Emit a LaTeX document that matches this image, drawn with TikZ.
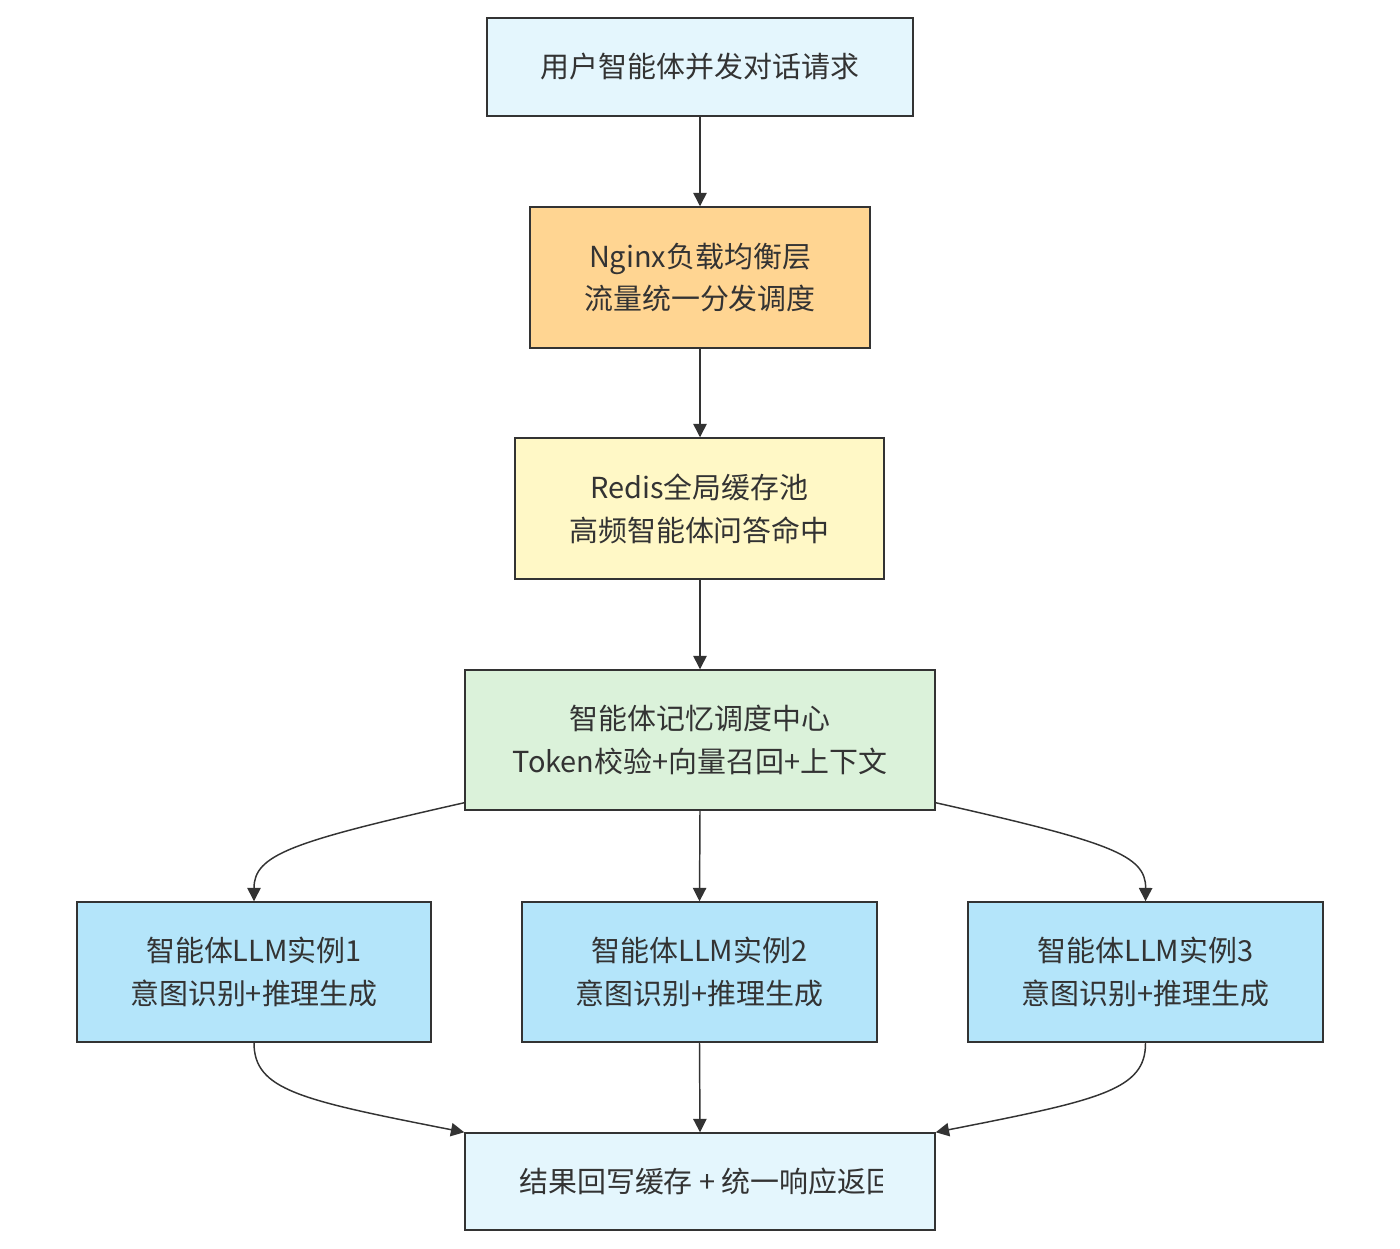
\documentclass[tikz,border=0pt]{standalone}
\usepackage{fontspec}
\setmainfont{Noto Sans CJK SC}
\usetikzlibrary{arrows.meta}
\definecolor{ink}{HTML}{333333}
\definecolor{cUser}{HTML}{E4F6FD}
\definecolor{cNginx}{HTML}{FFD592}
\definecolor{cRedis}{HTML}{FFF8C6}
\definecolor{cMem}{HTML}{DBF2DA}
\definecolor{cLLM}{HTML}{B4E5FA}
\definecolor{cOut}{HTML}{E4F6FD}
\begin{document}
\begin{tikzpicture}[x=0.75pt,y=-0.75pt,
  box/.style={draw=ink, line width=1.1pt, rectangle, inner sep=0pt, align=center, text=ink,
    font=\fontsize{21.7}{32.2}\selectfont},
  conn/.style={draw=ink, line width=1.1pt, -{Triangle[length=10pt,width=10pt]}},
  lbl/.style={text=ink, inner sep=0pt, font=\fontsize{21.7}{32.2}\selectfont}]
\useasboundingbox (0,0) rectangle (1400,1249);
\node[box, fill=cUser, minimum width={426*0.75pt}, minimum height={98*0.75pt}] (user) at (700,67) {用户智能体并发对话请求};
\node[box, fill=cNginx, minimum width={340*0.75pt}, minimum height={141*0.75pt}] (nginx) at (700,277.5) {Nginx负载均衡层\\流量统一分发调度};
\node[box, fill=cRedis, minimum width={369*0.75pt}, minimum height={141*0.75pt}] (redis) at (699.5,508.5) {Redis全局缓存池\\高频智能体问答命中};
\node[box, fill=cMem, minimum width={470*0.75pt}, minimum height={140*0.75pt}] (mem) at (700,740) {智能体记忆调度中心\\Token校验+向量召回+上下文};
\node[box, fill=cLLM, minimum width={354*0.75pt}, minimum height={140*0.75pt}] (llm1) at (254,972) {智能体LLM实例1\\意图识别+推理生成};
\node[box, fill=cLLM, minimum width={355*0.75pt}, minimum height={140*0.75pt}] (llm2) at (699.5,972) {智能体LLM实例2\\意图识别+推理生成};
\node[box, fill=cLLM, minimum width={355*0.75pt}, minimum height={140*0.75pt}] (llm3) at (1145.5,972) {智能体LLM实例3\\意图识别+推理生成};
\node[box, fill=cOut, minimum width={470*0.75pt}, minimum height={97*0.75pt}] (out) at (700,1181.5) {};
\begin{scope}
  \clip (470,1140) rectangle (882,1225);
  \node[lbl, anchor=west] (outtext) at (519,1181.5) {结果回写缓存 + 统一响应返回};
\end{scope}
\draw[conn] (user.south) -- (nginx.north);
\draw[conn] (nginx.south) -- (redis.north -| nginx.south);
\draw[conn] (redis.south -| nginx.south) -- (mem.north);
\draw[conn] (mem.south) -- (llm2.north);
\draw[conn] ([yshift={8*0.75pt}]mem.south west) .. controls (290,842) and (254,855) .. (llm1.north);
\draw[conn] ([yshift={8*0.75pt}]mem.south east) .. controls (1110,842) and (1146,855) .. (llm3.north);
\draw[conn] (llm2.south) -- (out.north);
\draw[conn] (llm1.south) .. controls (254,1090) and (300,1100) .. (out.north west);
\draw[conn] (llm3.south) .. controls (1146,1090) and (1100,1100) .. (out.north east);
\end{tikzpicture}
\end{document}
